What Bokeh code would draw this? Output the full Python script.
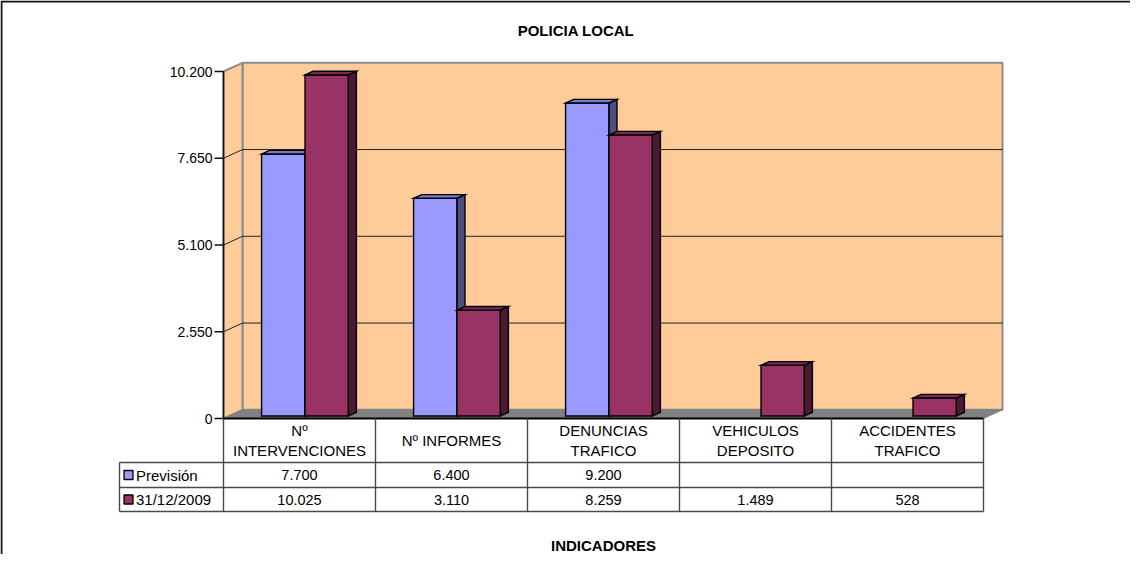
from bokeh.plotting import figure
from bokeh.models import Range1d
from bokeh.core.properties import value
from bokeh.embed import file_html
from bokeh.resources import INLINE

# ---------------- data ----------------
chart_title = "POLICIA LOCAL"
axis_title = "INDICADORES"
categories = ["Nº\nINTERVENCIONES", "Nº INFORMES", "DENUNCIAS\nTRAFICO",
              "VEHICULOS\nDEPOSITO", "ACCIDENTES\nTRAFICO"]
series_names = ["Previsión", "31/12/2009"]
prevision = [7700, 6400, 9200, None, None]
real_2009 = [10025, 3110, 8259, 1489, 528]
y_ticks = [0, 2550, 5100, 7650, 10200]

# ---------------- styles ----------------
FRONT = ["#9999FF", "#993366"]
SIDE = ["#4D4D80", "#4D1A33"]
TOP = ["#7A7ACC", "#7A2952"]
WALL = "#FFCC99"
FLOOR = "#808080"
FONT = "Liberation Sans"


def fmt(v):
    return f"{v:,}".replace(",", ".")


# ---------------- geometry ----------------
W, H = 1130, 554          # canvas size; page margin 8px
CAT_PX = 152.0            # pixel width of one category
VAL_PER_PX = 10200 / 347.0
ORIG_X, ORIG_Y = 231, 426  # page-pixel position of (0, 0)


def lx(px):   # layout helper: page px -> category units
    return (px - ORIG_X) / CAT_PX


def ly(py):   # layout helper: page px -> value units
    return (ORIG_Y - py) * VAL_PER_PX


ymax = y_ticks[-1]
ncat = len(categories)
DX, DY = 19 / CAT_PX, 8.7 * VAL_PER_PX   # wall depth
F, G = 0.29, 0.42                          # bar front offset / depth (fraction of wall depth)
GAP = 1.5
bw = 1.0 / (2 + GAP)

p = figure(width=W, height=H,
           x_range=Range1d(lx(8), lx(8 + W)), y_range=Range1d(ly(8 + H), ly(8)),
           x_axis_type=None, y_axis_type=None,
           output_backend="svg", toolbar_location=None,
           min_border=0, min_border_left=0, min_border_right=0,
           min_border_top=0, min_border_bottom=0,
           outline_line_color=None, background_fill_color="white",
           border_fill_color="white")
p.xgrid.visible = False
p.ygrid.visible = False

# outer chart border (left and top)
p.line([lx(9), lx(9), lx(1160)], [ly(600), ly(9), ly(9)], line_color="#111111", line_width=2)

# walls
p.patch([DX, ncat + DX, ncat + DX, DX], [DY, DY, ymax + DY, ymax + DY],
        fill_color=WALL, line_color="#8C8C8C", line_width=2)
p.patch([0, DX, DX, 0], [0, DY, ymax + DY, ymax],
        fill_color=WALL, line_color="#8C8C8C", line_width=2)

# gridlines
gx, gy = [], []
for v in y_ticks[1:-1]:
    gx.append([0, DX, ncat + DX]); gy.append([v, v + DY, v + DY])
p.multi_line(gx, gy, line_color="#222222", line_width=1)

# floor
p.patch([0, ncat, ncat + DX, DX], [0, 0, DY, DY], fill_color=FLOOR, line_color="#808080", line_width=1)

# bars
xs, ys, fills = [], [], []
for i in range(ncat):
    for s, vals in enumerate([prevision, real_2009]):
        v = vals[i]
        if v is None:
            continue
        xl = i + bw * GAP / 2 + s * bw + F * DX
        xr = xl + bw
        b = F * DY
        t = v + F * DY
        ddx, ddy = G * DX, G * DY
        xs.append([xl, xr, xr, xl]); ys.append([b, b, t, t]); fills.append(FRONT[s])
        xs.append([xr, xr + ddx, xr + ddx, xr]); ys.append([b, b + ddy, t + ddy, t]); fills.append(SIDE[s])
        xs.append([xl, xr, xr + ddx, xl + ddx]); ys.append([t, t, t + ddy, t + ddy]); fills.append(TOP[s])
p.patches(xs, ys, fill_color=fills, line_color="black", line_width=1.4, line_join="miter")

# y axis line, ticks, labels
p.line([0, 0], [0, ymax], line_color="#111111", line_width=1.6)
p.multi_line([[lx(222), 0] for _ in y_ticks], [[v, v] for v in y_ticks],
             line_color="#111111", line_width=1.4)
p.text([lx(220)] * len(y_ticks), y_ticks, text=[fmt(v) for v in y_ticks],
       text_align="right", text_baseline="middle", text_font=value(FONT),
       text_font_size="14px", text_color="black")

# front floor edge
p.line([0, ncat], [0, 0], line_color="black", line_width=1.8)

# data table
rows_y = [ly(470), ly(495), ly(519)]
tx, ty = [], []
for ry in rows_y:
    tx.append([lx(127), ncat]); ty.append([ry, ry])
for i in range(ncat + 1):
    tx.append([i, i]); ty.append([0, rows_y[-1]])
tx.append([lx(127), lx(127)]); ty.append([rows_y[0], rows_y[-1]])
p.multi_line(tx, ty, line_color="#4A4A4A", line_width=1.4)

centers = [i + 0.5 for i in range(ncat)]
p.text(centers, [ly(448)] * ncat, text=categories, text_align="center",
       text_baseline="middle", text_font=value(FONT), text_font_size="15px",
       text_line_height=1.2, text_color="black")
for s, vals in enumerate([prevision, real_2009]):
    row_c = ly(482.5) if s == 0 else ly(507)
    cx = [c for c, v in zip(centers, vals) if v is not None]
    lbl = [fmt(v) for v in vals if v is not None]
    p.text(cx, [row_c] * len(cx), text=lbl, text_align="center", text_baseline="middle",
           text_font=value(FONT), text_font_size="14.5px", text_color="black")
    p.scatter([lx(136)], [row_c], marker="square", size=9, fill_color=FRONT[s],
              line_color="black", line_width=1.3)
    p.text([lx(143.5)], [row_c], text=[series_names[s]], text_align="left",
           text_baseline="middle", text_font=value(FONT), text_font_size="15px",
           text_color="black")

# titles
p.text([lx(583.5)], [ly(38)], text=[chart_title], text_align="center", text_baseline="middle",
       text_font=value(FONT), text_font_size="15px", text_font_style="bold", text_color="black")
p.text([lx(611)], [ly(553)], text=[axis_title], text_align="center", text_baseline="middle",
       text_font=value(FONT), text_font_size="15px", text_font_style="bold", text_color="black")

open("out.html", "w").write(file_html(p, INLINE))
